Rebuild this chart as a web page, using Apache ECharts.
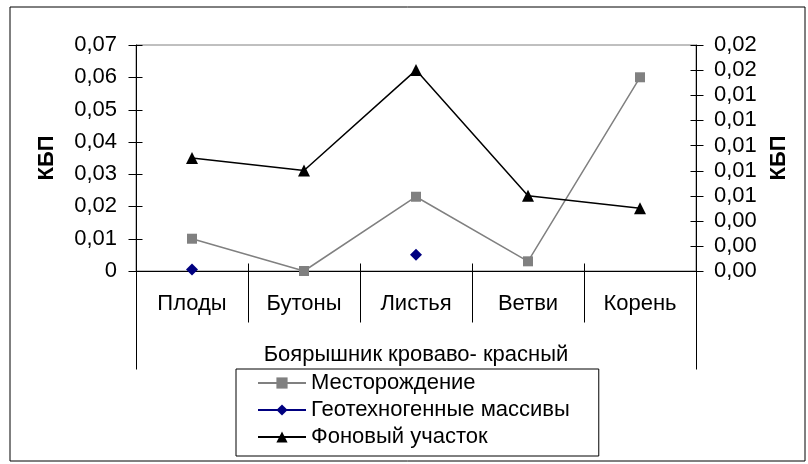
<!DOCTYPE html>
<html>
<head>
<meta charset="utf-8">
<script src="https://cdn.jsdelivr.net/npm/echarts@6/dist/echarts.min.js"></script>
<style>
  html, body { margin: 0; padding: 0; background: #fff; }
  #chart { width: 808px; height: 464px; }
</style>
</head>
<body>
<div id="chart"></div>
<script>
// данные
const categories = ['Плоды', 'Бутоны', 'Листья', 'Ветви', 'Корень']
const groupLabel = ['Боярышник кроваво- красный']
const deposit = [0.01, 0, 0.023, 0.003, 0.06]          // Месторождение, левая ось
const geoMass = [0.0005, null, 0.005, null, null]      // Геотехногенные массивы, левая ось
const background = [0.009, 0.008, 0.016, 0.006, 0.005] // Фоновый участок, правая ось
const leftTicks = [0, 0.01, 0.02, 0.03, 0.04, 0.05, 0.06, 0.07]
const rightTicks = [0, 0.002, 0.004, 0.006, 0.008, 0.01, 0.012, 0.014, 0.016, 0.018]

const font = 'Liberation Sans, Arial, sans-serif'
const fs = 22

const chart = echarts.init(document.getElementById('chart'))

// подпись с запятой
const comma = (v) => v.toFixed(2).replace('.', ',')

const frame = {
  type: 'rect',
  shape: { x: 10, y: 7, width: 795, height: 454 },
  style: { fill: 'none', stroke: '#000', lineWidth: 1 },
  silent: true,
  z: -1
}

const option = {
  animation: false,
  backgroundColor: '#fff',
  textStyle: { fontFamily: font },
  graphic: [frame],
  grid: {
    left: 136, right: 112, top: 45, bottom: 193,
    show: true, borderColor: '#808080', borderWidth: 1
  },
  xAxis: [
    {
      type: 'category',
      data: categories,
      boundaryGap: true,
      axisLine: { lineStyle: { color: '#000' } },
      axisTick: { show: false },
      axisLabel: { interval: 0, margin: 22, fontSize: fs, color: '#000', fontFamily: font }
    },
    {
      // второй уровень подписей
      type: 'category',
      data: groupLabel,
      position: 'bottom',
      axisLine: { show: false },
      axisTick: { show: false },
      axisLabel: { interval: 0, margin: 73, fontSize: fs, color: '#000', fontFamily: font }
    }
  ],
  yAxis: [
    {
      type: 'value',
      min: 0, max: 0.07, interval: 0.01,
      splitLine: { show: false },
      axisLine: { show: true, lineStyle: { color: '#000' } },
      axisTick: { show: false },
      name: 'КБП', nameLocation: 'middle', nameRotate: 90, nameGap: 78,
      nameTextStyle: { fontSize: fs, fontWeight: 'bold', color: '#000', fontFamily: font },
      axisLabel: {
        margin: 19, fontSize: fs, color: '#000', fontFamily: font,
        formatter: (v) => (v === 0 ? '0' : comma(v))
      }
    },
    {
      type: 'value',
      position: 'right',
      min: 0, max: 0.018, interval: 0.002,
      splitLine: { show: false },
      axisLine: { show: true, lineStyle: { color: '#000' } },
      axisTick: { show: false },
      name: 'КБП', nameLocation: 'middle', nameRotate: 90, nameGap: 72,
      nameTextStyle: { fontSize: fs, fontWeight: 'bold', color: '#000', fontFamily: font },
      axisLabel: {
        margin: 18, fontSize: fs, color: '#000', fontFamily: font,
        formatter: (v) => comma(v)
      }
    }
  ],
  legend: {
    orient: 'vertical',
    left: 236,
    top: 369,
    padding: [3, 29, 8, 21],
    itemGap: 5,
    itemWidth: 48,
    itemHeight: 14,
    borderColor: '#000',
    borderWidth: 1,
    textStyle: { fontSize: fs, color: '#000', fontFamily: font },
    data: ['Месторождение', 'Геотехногенные массивы', 'Фоновый участок']
  },
  series: [
    {
      name: 'Месторождение',
      type: 'line',
      yAxisIndex: 0,
      data: deposit,
      symbol: 'rect',
      symbolSize: 10,
      lineStyle: { color: '#808080', width: 1.5 },
      itemStyle: { color: '#808080' }
    },
    {
      name: 'Геотехногенные массивы',
      type: 'line',
      yAxisIndex: 0,
      data: geoMass,
      connectNulls: false,
      symbol: 'diamond',
      symbolSize: 12,
      lineStyle: { color: '#000080', width: 1.5 },
      itemStyle: { color: '#000080' }
    },
    {
      name: 'Фоновый участок',
      type: 'line',
      yAxisIndex: 1,
      data: background,
      symbol: 'triangle',
      symbolSize: 12,
      lineStyle: { color: '#000', width: 1.5 },
      itemStyle: { color: '#000' }
    }
  ]
}

chart.setOption(option)

// засечки осей: позиции берутся из шкал ECharts
const seg = (x1, y1, x2, y2) => ({
  type: 'line',
  silent: true,
  shape: { x1: x1, y1: y1, x2: x2, y2: y2 },
  style: { stroke: '#000', lineWidth: 1 },
  z: 10
})

const ticks = [frame]
const c0 = chart.convertToPixel({ xAxisIndex: 0 }, 0)
const c1 = chart.convertToPixel({ xAxisIndex: 0 }, 1)
const band = c1 - c0
const y0 = Math.round(chart.convertToPixel({ yAxisIndex: 0 }, 0)) + 0.5
const xl = Math.round(c0 - band / 2) + 0.5
const xr = Math.round(c0 + band * (categories.length - 0.5)) + 0.5

categories.forEach((_, i) => {
  if (i === 0) return
  const x = Math.round(c0 - band / 2 + band * i) + 0.5
  ticks.push(seg(x, y0 - 8, x, y0 + 51))
})
// границы группы второго уровня
ticks.push(seg(xl, y0, xl, y0 + 98))
ticks.push(seg(xr, y0, xr, y0 + 98))

leftTicks.forEach((v) => {
  const y = Math.round(chart.convertToPixel({ yAxisIndex: 0 }, v)) + 0.5
  ticks.push(seg(xl - 8, y, xl + 6, y))
})
rightTicks.forEach((v) => {
  const y = Math.round(chart.convertToPixel({ yAxisIndex: 1 }, v)) + 0.5
  ticks.push(seg(xr - 6, y, xr + 7, y))
})

chart.setOption({ graphic: ticks })
</script>
</body>
</html>
